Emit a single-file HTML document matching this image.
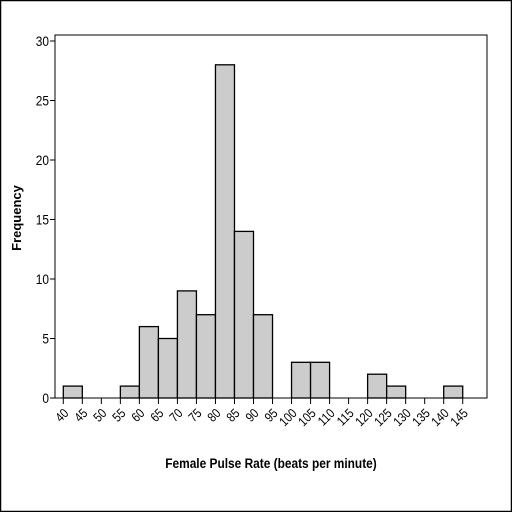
<!DOCTYPE html>
<html><head><meta charset="utf-8"><style>
html,body{margin:0;padding:0;background:#fff;}
svg{display:block;font-family:"Liberation Sans",sans-serif;}
</style></head><body>
<svg id="chart" width="512" height="512" xmlns="http://www.w3.org/2000/svg">
<rect x="0.5" y="0.5" width="511" height="511" fill="#fff" stroke="#000" stroke-width="1.5"/>
<rect x="55" y="35" width="432" height="363" fill="#fff" stroke="#000" stroke-width="1"/>
<g id="bars"></g>
<g id="axes"></g>
<text x="271" y="468" text-anchor="middle" font-size="14" font-weight="bold" transform="translate(271 468) scale(0.85 1) translate(-271 -468)">Female Pulse Rate (beats per minute)</text>
<text x="0" y="0" text-anchor="middle" font-size="13" font-weight="bold" transform="translate(21 218) rotate(-90)">Frequency</text>
</svg>
<script>
const binStarts = [40,55,60,65,70,75,80,85,90,100,105,120,125,140];
const counts = [1,1,6,5,9,7,28,14,7,3,3,2,1,1];
const binWidth = 5;
const xTicks = [40,45,50,55,60,65,70,75,80,85,90,95,100,105,110,115,120,125,130,135,140,145];
const yTicks = [0,5,10,15,20,25,30];
const NS = "http://www.w3.org/2000/svg";
function xs(v){ return 63.3 + (v-40)*3.804; }
function ys(v){ return 398 - v*11.9; }
const bars = document.getElementById('bars');
binStarts.forEach((b,i)=>{
  const r = document.createElementNS(NS,'rect');
  
  
  r.setAttribute('x', xs(b)); r.setAttribute('y', ys(counts[i]));
  r.setAttribute('width', xs(b+binWidth)-xs(b)); r.setAttribute('height', ys(0)-ys(counts[i]));
  r.setAttribute('fill', '#cccccc'); r.setAttribute('stroke', '#000'); r.setAttribute('stroke-width', '1.3');
  bars.appendChild(r);
});
const axes = document.getElementById('axes');
xTicks.forEach(t=>{
  const l = document.createElementNS(NS,'line');
  
  
  l.setAttribute('x1', xs(t)); l.setAttribute('x2', xs(t)); l.setAttribute('y1', 398); l.setAttribute('y2', 404);
  l.setAttribute('stroke', '#000');
  axes.appendChild(l);
  const tx = document.createElementNS(NS,'text');
  
  
  tx.setAttribute('font-size', '13');
  tx.setAttribute('text-anchor', 'end');
  tx.setAttribute('transform', 'translate(' + (xs(t)+6) + ' 414) rotate(-45) scale(0.85 1)');
  tx.textContent = t;
  axes.appendChild(tx);
});
yTicks.forEach(t=>{
  const l = document.createElementNS(NS,'line');
  
  
  l.setAttribute('x1', 50); l.setAttribute('x2', 55); l.setAttribute('y1', ys(t)); l.setAttribute('y2', ys(t));
  l.setAttribute('stroke', '#000');
  axes.appendChild(l);
  const tx = document.createElementNS(NS,'text');
  
  
  tx.setAttribute('font-size', '14');
  tx.setAttribute('text-anchor', 'end');
  tx.setAttribute('transform', 'translate(49 ' + (ys(t)+5) + ') scale(0.85 1)');
  tx.textContent = t;
  axes.appendChild(tx);
});
</script>
</body></html>
